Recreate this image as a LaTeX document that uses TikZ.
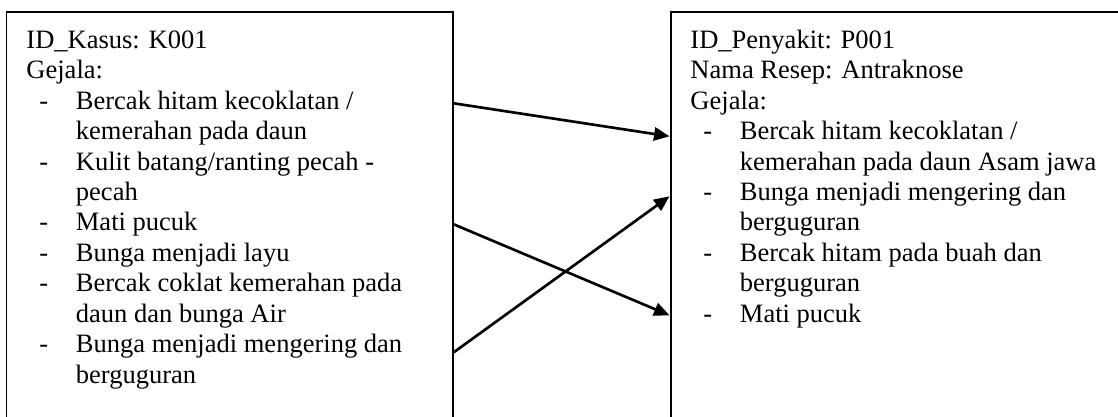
\documentclass[tikz,border=0pt]{standalone}
\usepackage{fontspec}
\setmainfont{Liberation Serif}
\usepackage{tikz}
\usetikzlibrary{arrows.meta,positioning,calc,fit}

\newcommand{\gitem}[1]{\makebox[22.4pt][l]{\hspace*{5.9pt}-}#1}
\newcommand{\glanjut}[1]{\hspace*{22.4pt}#1}

\begin{document}
\begin{tikzpicture}[
  x=0.4525pt, y=-0.4525pt,
  kotak/.style={draw, line width=0.9pt, inner sep=0pt},
  isi/.style={anchor=base west, inner sep=0pt, font=\fontsize{12}{13.8}\selectfont},
  arrow/.style={-{Triangle[length=7pt, width=6pt]}, line width=1.2pt}
]
\useasboundingbox (0,0) rectangle (1118,416);
\clip (0,0) rectangle (1118,416);

\node[kotak, fit={(6.5,12.3) (452.7,440)}] (kasus) {};
\node[kotak, fit={(670.5,12.3) (1140,440)}] (penyakit) {};

\node[isi] (kasusTeks) at (26,48) {\parbox[t]{200pt}{%
ID\_Kasus: K001\\
Gejala:\\
\gitem{Bercak hitam kecoklatan /}\\
\glanjut{kemerahan pada daun}\\
\gitem{Kulit batang/ranting pecah -}\\
\glanjut{pecah}\\
\gitem{Mati pucuk}\\
\gitem{Bunga menjadi layu}\\
\gitem{Bercak coklat kemerahan pada}\\
\glanjut{daun dan bunga Air}\\
\gitem{Bunga menjadi mengering dan}\\
\glanjut{berguguran}}};

\node[isi] (penyakitTeks) at (690,48) {\parbox[t]{200pt}{%
ID\_Penyakit: P001\\
Nama Resep: Antraknose\\
Gejala:\\
\gitem{Bercak hitam kecoklatan /}\\
\glanjut{kemerahan pada daun Asam jawa}\\
\gitem{Bunga menjadi mengering dan}\\
\glanjut{berguguran}\\
\gitem{Bercak hitam pada buah dan}\\
\glanjut{berguguran}\\
\gitem{Mati pucuk}}};

\draw[arrow] ($(kasus.north east)+(0,92)$) -- ($(penyakit.north west)+(0,125)$);
\draw[arrow] ($(kasus.north east)+(0,213)$) -- ($(penyakit.north west)+(0,304)$);
\draw[arrow] ($(kasus.north east)+(0,341)$) -- ($(penyakit.north west)+(0,185)$);
\end{tikzpicture}
\end{document}
